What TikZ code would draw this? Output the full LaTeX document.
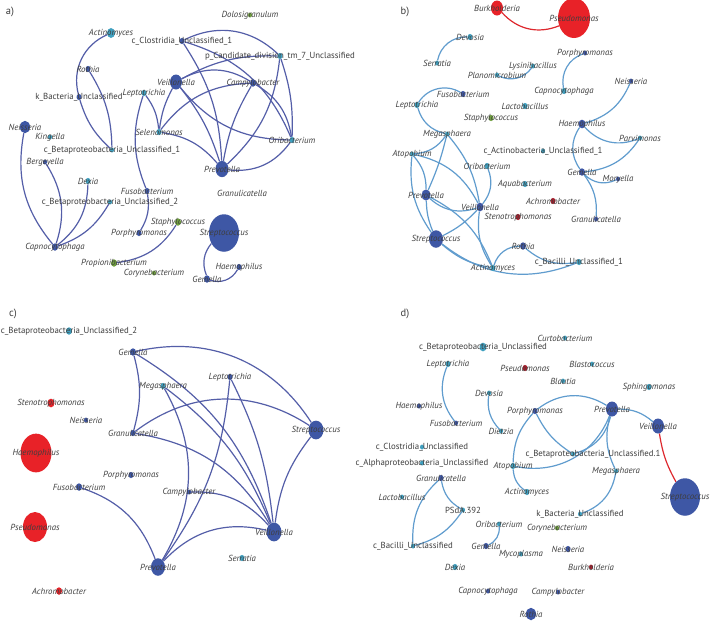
\documentclass[tikz,border=0pt]{standalone}
\usepackage{fontspec}
\setmainfont{PT Sans}
\usetikzlibrary{shapes.geometric,backgrounds}

\definecolor{dkb}{RGB}{62,87,165}
\definecolor{tl}{RGB}{64,160,192}
\definecolor{grn}{RGB}{112,160,62}
\definecolor{rd}{RGB}{232,34,40}
\definecolor{drd}{RGB}{168,30,44}
\definecolor{edgeAC}{RGB}{84,94,168}
\definecolor{edgeBD}{RGB}{96,156,206}
\definecolor{edgeR}{RGB}{222,40,46}
\definecolor{labtext}{RGB}{62,62,62}
\newcommand{\labsize}{\fontsize{8.8}{10}\selectfont}

\begin{document}
\begin{tikzpicture}[x=1pt,y=-1pt,
  tx/.style 2 args={ellipse,inner sep=0pt,fill=#1,minimum width={#2*2pt},minimum height={#2*2.5pt}},
  gen/.style={font=\labsize\itshape,text=labtext,inner sep=0pt},
  cls/.style={font=\labsize,text=labtext,inner sep=0pt},
  pan/.style={font=\fontsize{10.5}{12}\selectfont,text=labtext},
  ea/.style={line width=1.2pt,draw=edgeAC},
  eb/.style={line width=1.2pt,draw=edgeBD},
  er/.style={line width=1.2pt,draw=edgeR}]
\useasboundingbox (0,0) rectangle (710,622);

% panel labels
\node[pan] (pa) at (10,12) {a)};
\node[pan] (pb) at (405,12) {b)};
\node[pan] (pc) at (13,314) {c)};
\node[pan] (pd) at (405,314) {d)};

% ---- a) ----
\node[tx={grn}{2},label={[gen]center:Dolosigranulum}] (aDolo) at (250,15) {};
\node[tx={tl}{4},label={[gen]center:Actinomyces}] (aActi) at (111,33) {};
\node[tx={dkb}{2.5},label={[cls]center:c\_Clostridia\_Unclassified\_1}] (aClos) at (182,41) {};
\node[tx={tl}{2.5},label={[cls]center:p\_Candidate\_division\_tm\_7\_Unclassified}] (aPCan) at (280,56) {};
\node[tx={dkb}{2.5},label={[gen]center:Rothia}] (aRoth) at (88,69) {};
\node[tx={dkb}{6},label={[gen]center:Veillonella}] (aVeil) at (176,82) {};
\node[tx={dkb}{3},label={[gen]center:Campylobacter}] (aCamp) at (253,83) {};
\node[tx={dkb}{2.5},label={[cls]center:k\_Bacteria\_Unclassified}] (akBac) at (79,97) {};
\node[tx={tl}{2.5},label={[gen]center:Leptotrichia}] (aLept) at (144,93) {};
\node[tx={dkb}{5},label={[gen]center:Neisseria}] (aNeis) at (25,127) {};
\node[tx={tl}{2},label={[gen]center:Kingella}] (aKing) at (50,137) {};
\node[tx={tl}{2},label={[cls]center:c\_Betaproteobacteria\_Unclassified\_1}] (aBet1) at (112,150) {};
\node[tx={tl}{2.5},label={[gen]center:Selenomonas}] (aSele) at (159,132) {};
\node[tx={tl}{2.5},label={[gen]center:Oribacterium}] (aOrib) at (292,140) {};
\node[tx={dkb}{2},label={[gen]center:Bergeyella}] (aBerg) at (45,162) {};
\node[tx={dkb}{6.5},label={[gen]center:Prevotella}] (aPrev) at (222,169) {};
\node[tx={tl}{2.5},label={[gen]center:Dexia}] (aDexi) at (88,181) {};
\node[tx={dkb}{2.5},label={[gen]center:Fusobacterium}] (aFuso) at (147,191) {};
\node[gen] (aGran) at (242,193) {Granulicatella};
\node[tx={tl}{2},label={[cls]center:c\_Betaproteobacteria\_Unclassified\_2}] (aBet2) at (110,202) {};
\node[tx={grn}{3},label={[gen]center:Staphylococcus}] (aStap) at (178,222) {};
\node[tx={dkb}{15},label={[gen]center:Streptococcus}] (aStre) at (224,233) {};
\node[tx={dkb}{2.5},label={[gen]center:Porphyromonas}] (aPorp) at (139,233) {};
\node[tx={dkb}{3},label={[gen]center:Capnocytophaga}] (aCapn) at (55,247) {};
\node[tx={grn}{3},label={[gen]center:Propionibacterium}] (aProp) at (114,263) {};
\node[tx={grn}{2},label={[gen]center:Corynebacterium}] (aCory) at (154,273) {};
\node[tx={dkb}{2.5},label={[gen]center:Haemophilus}] (aHaem) at (239,267) {};
\node[tx={dkb}{3},label={[gen]center:Gemella}] (aGeme) at (207,279) {};

% ---- b) ----
\node[tx={rd}{6},label={[gen]center:Burkholderia}] (bBurk) at (497,8) {};
\node[tx={rd}{16},label={[gen]center:Pseudomonas}] (bPseu) at (574,18) {};
\node[tx={tl}{2.5},label={[gen]center:Devosia}] (bDevo) at (470,37) {};
\node[tx={tl}{2},label={[gen]center:Serratia}] (bSerr) at (437,63) {};
\node[tx={tl}{2},label={[gen]center:Lysinibacillus}] (bLysi) at (533,66) {};
\node[tx={tl}{2},label={[gen]center:Planomicrobium}] (bPlan) at (497,75) {};
\node[tx={dkb}{2},label={[gen]center:Porphyromonas}] (bPorp) at (585,53) {};
\node[tx={tl}{2.5},label={[gen]center:Capnocytophaga}] (bCapn) at (564,91) {};
\node[tx={dkb}{2},label={[gen]center:Neisseria}] (bNeis) at (631,81) {};
\node[tx={dkb}{2.5},label={[gen]center:Fusobacterium}] (bFuso) at (463,94) {};
\node[tx={tl}{2.5},label={[gen]center:Leptotrichia}] (bLept) at (417,105) {};
\node[tx={tl}{2.5},label={[gen]center:Lactobacillus}] (bLact) at (525,106) {};
\node[tx={grn}{2.5},label={[gen]center:Staphylococcus}] (bStap) at (491,118) {};
\node[tx={dkb}{3.5},label={[gen]center:Haemophilus}] (bHaem) at (582,124) {};
\node[tx={tl}{2},label={[gen]center:Parvimonas}] (bParv) at (640,138) {};
\node[tx={tl}{2},label={[gen]center:Megasphaera}] (bMega) at (447,134) {};
\node[tx={tl}{2},label={[cls]center:c\_Actinobacteria\_Unclassified\_1}] (bActU) at (543,151) {};
\node[tx={tl}{2},label={[gen]center:Atopobium}] (bAtop) at (412,154) {};
\node[tx={tl}{2.5},label={[gen]center:Oribacterium}] (bOrib) at (487,166) {};
\node[tx={dkb}{3},label={[gen]center:Gemella}] (bGeme) at (582,172) {};
\node[tx={dkb}{2},label={[gen]center:Moryella}] (bMory) at (618,179) {};
\node[tx={tl}{2.5},label={[gen]center:Aquabacterium}] (bAqua) at (525,184) {};
\node[tx={dkb}{4.5},label={[gen]center:Prevotella}] (bPrev) at (426,195) {};
\node[tx={drd}{2.5},label={[gen]center:Achromobacter}] (bAchr) at (553,201) {};
\node[tx={dkb}{3.5},label={[gen]center:Veillonella}] (bVeil) at (480,207) {};
\node[tx={drd}{2.5},label={[gen]center:Stenotrophomonas}] (bSten) at (518,217) {};
\node[tx={dkb}{2},label={[gen]center:Granulicatella}] (bGran) at (596,219) {};
\node[tx={dkb}{7},label={[gen]center:Streptococcus}] (bStre) at (436,239) {};
\node[tx={dkb}{3},label={[gen]center:Rothia}] (bRoth) at (523,246) {};
\node[tx={tl}{2.5},label={[cls]center:c\_Bacilli\_Unclassified\_1}] (bBaci) at (579,262) {};
\node[tx={tl}{2.5},label={[gen]center:Actinomyces}] (bActi) at (493,268) {};

% ---- c) ----
\node[tx={tl}{3},label={[cls]center:c\_Betaproteobacteria\_Unclassified\_2}] (cBet2) at (69,331) {};
\node[tx={dkb}{3},label={[gen]center:Gemella}] (cGeme) at (133,352) {};
\node[tx={dkb}{2.5},label={[gen]center:Leptotrichia}] (cLept) at (230,377) {};
\node[tx={tl}{2.5},label={[gen]center:Megasphaera}] (cMega) at (163,386) {};
\node[tx={rd}{3.5},label={[gen]center:Stenotrophomonas}] (cSten) at (51,403) {};
\node[tx={dkb}{2},label={[gen]center:Neisseria}] (cNeis) at (86,420) {};
\node[tx={dkb}{2.5},label={[gen]center:Granulicatella}] (cGran) at (133,433) {};
\node[tx={dkb}{7.5},label={[gen]center:Streptococcus}] (cStre) at (316,430) {};
\node[tx={rd}{15.5},label={[gen]center:Haemophilus}] (cHaem) at (36,453) {};
\node[tx={dkb}{2.5},label={[gen]center:Porphyromonas}] (cPorp) at (131,475) {};
\node[tx={dkb}{3},label={[gen]center:Fusobacterium}] (cFuso) at (79,487) {};
\node[tx={dkb}{2},label={[gen]center:Campylobacter}] (cCamp) at (189,492) {};
\node[tx={rd}{12},label={[gen]center:Pseudomonas}] (cPseu) at (35,527) {};
\node[tx={dkb}{7.5},label={[gen]center:Veillonella}] (cVeil) at (274,532) {};
\node[tx={tl}{2.5},label={[gen]center:Serratia}] (cSerr) at (242,558) {};
\node[tx={dkb}{7},label={[gen]center:Prevotella}] (cPrev) at (158,567) {};
\node[tx={rd}{3},label={[gen]center:Achromobacter}] (cAchr) at (59,591) {};

% ---- d) ----
\node[tx={tl}{2},label={[gen]center:Curtobacterium}] (dCurt) at (565,338) {};
\node[tx={tl}{3.5},label={[cls]center:c\_Betaproteobacteria\_Unclassified}] (dBeta) at (483,347) {};
\node[tx={tl}{2.5},label={[gen]center:Leptotrichia}] (dLept) at (448,364) {};
\node[tx={drd}{2.5},label={[gen]center:Pseudomonas}] (dPseu) at (525,368) {};
\node[tx={tl}{2},label={[gen]center:Blastococcus}] (dBlas) at (592,364) {};
\node[tx={tl}{2},label={[gen]center:Blautia}] (dBlau) at (563,381) {};
\node[tx={tl}{2.5},label={[gen]center:Sphingomonas}] (dSphi) at (649,387) {};
\node[tx={tl}{2},label={[gen]center:Devosia}] (dDevo) at (489,393) {};
\node[tx={dkb}{2},label={[gen]center:Haemophilus}] (dHaem) at (419,406) {};
\node[tx={dkb}{2.5},label={[gen]center:Porphyromonas}] (dPorp) at (535,411) {};
\node[tx={dkb}{6},label={[gen]center:Prevotella}] (dPrev) at (612,409) {};
\node[tx={dkb}{6},label={[gen]center:Veillonella}] (dVeil) at (658,426) {};
\node[tx={dkb}{2},label={[gen]center:Fusobacterium}] (dFuso) at (456,423) {};
\node[tx={tl}{2},label={[gen]center:Dietzia}] (dDiet) at (501,431) {};
\node[tx={tl}{2},label={[cls]center:c\_Clostridia\_Unclassified}] (dClos) at (422,447) {};
\node[tx={tl}{2},label={[cls]center:c\_Alphaproteobacteria\_Unclassified}] (dAlph) at (422,463) {};
\node[tx={tl}{2},label={[cls,xshift=20pt]center:c\_Betaproteobacteria\_Unclassified.1}] (dBet1) at (573,454) {};
\node[tx={tl}{2.5},label={[gen]center:Atopobium}] (dAtop) at (513,466) {};
\node[tx={dkb}{2.5},label={[gen]center:Granulicatella}] (dGran) at (441,478) {};
\node[tx={tl}{2},label={[gen]center:Lactobacillus}] (dLact) at (402,497) {};
\node[tx={tl}{2.5},label={[gen]center:Actinomyces}] (dActi) at (527,492) {};
\node[tx={tl}{2},label={[cls]center:PSdA.392}] (dPSdA) at (463,510) {};
\node[tx={tl}{2},label={[cls]center:k\_Bacteria\_Unclassified}] (dkBac) at (580,514) {};
\node[tx={tl}{2},label={[gen]center:Megasphaera}] (dMega) at (616,471) {};
\node[tx={dkb}{15},label={[gen]center:Streptococcus}] (dStre) at (685,497) {};
\node[tx={tl}{2},label={[gen]center:Oribacterium}] (dOrib) at (499,524) {};
\node[tx={grn}{2},label={[gen]center:Corynebacterium}] (dCory) at (557,528) {};
\node[tx={tl}{2},label={[cls]center:c\_Bacilli\_Unclassified}] (dBaci) at (413,546) {};
\node[tx={dkb}{2.5},label={[gen]center:Gemella}] (dGeme) at (486,546) {};
\node[tx={tl}{2},label={[gen]center:Mycoplasma}] (dMyco) at (521,554) {};
\node[tx={dkb}{2.5},label={[gen]center:Neisseria}] (dNeis) at (568,549) {};
\node[tx={tl}{2.5},label={[gen]center:Dexia}] (dDexi) at (455,567) {};
\node[tx={drd}{2},label={[gen]center:Burkholderia}] (dBurk) at (591,567) {};
\node[tx={dkb}{2},label={[gen]center:Capnocytophaga}] (dCapn) at (488,591) {};
\node[tx={dkb}{2},label={[gen]center:Campylobacter}] (dCamp) at (558,592) {};
\node[tx={dkb}{5},label={[gen]center:Rothia}] (dRoth) at (531,614) {};

\begin{scope}[on background layer]
\fill[white] (0,0) rectangle (710,622);
% a) links
\draw[ea] (aActi) to[bend right=40] (akBac);
\draw[ea] (aRoth) to[bend left=15] (aBet1);
\draw[ea] (akBac) to[bend right=15] (aBet1);
\draw[ea] (aNeis) to[bend right=25] (aCapn);
\draw[ea] (aBerg) to[bend left=25] (aCapn);
\draw[ea] (aDexi) to[bend left=25] (aCapn);
\draw[ea] (aBet2) to[bend left=20] (aCapn);
\draw[ea] (aLept) to[bend left=15] (aSele);
\draw[ea] (aLept) to[bend right=20] (aFuso);
\draw[ea] (aFuso) to[bend left=20] (aPorp);
\draw[ea] (aStap) to[bend left=25] (aProp);
\draw[ea] (aStre) to[bend right=30] (aGeme);
\draw[ea] (aGeme) to[bend right=40] (aHaem);
\draw[ea] (aClos) to[bend left=35] (aPCan);
\draw[ea] (aClos) to[bend left=15] (aPrev);
\draw[ea] (aClos) to[bend left=25] (aOrib);
\draw[ea] (aVeil) to[bend left=30] (aCamp);
\draw[ea] (aVeil) to[bend left=15] (aPCan);
\draw[ea] (aVeil) to[bend left=10] (aPrev);
\draw[ea] (aVeil) to[bend right=10] (aSele);
\draw[ea] (aVeil) to[bend right=25] (aOrib);
\draw[ea] (aSele) to[bend left=25] (aCamp);
\draw[ea] (aSele) to[bend left=20] (aPrev);
\draw[ea] (aCamp) to[bend right=10] (aPrev);
\draw[ea] (aCamp) to[bend left=25] (aOrib);
\draw[ea] (aPCan) to[bend left=20] (aPrev);
\draw[ea] (aPCan) to[bend left=10] (aOrib);
\draw[ea] (aPrev) to[bend right=30] (aOrib);
% b) links
\draw[er] (bBurk) to[bend right=35] (bPseu);
\draw[eb] (bDevo) to[bend right=40] (bSerr);
\draw[eb] (bLysi) to[bend left=40] (bPlan);
\draw[eb] (bPorp) to[bend right=40] (bCapn);
\draw[eb] (bLept) to[bend left=45] (bFuso);
\draw[eb] (bLept) to[bend right=30] (bMega);
\draw[eb] (bNeis) to[bend left=25] (bHaem);
\draw[eb] (bHaem) to[bend right=35] (bParv);
\draw[eb] (bHaem) to[bend right=35] (bGeme);
\draw[eb] (bParv) to[bend left=25] (bGeme);
\draw[eb] (bGeme) to[bend right=35] (bMory);
\draw[eb] (bGeme) to[bend left=20] (bGran);
\draw[eb] (bMega) to[bend left=25] (bAtop);
\draw[eb] (bMega) to[bend left=5] (bPrev);
\draw[eb] (bMega) to[bend left=15] (bVeil);
\draw[eb] (bAtop) to[bend left=20] (bPrev);
\draw[eb] (bAtop) to[bend left=25] (bVeil);
\draw[eb] (bAtop) to[bend right=20] (bStre);
\draw[eb] (bOrib) to[bend left=30] (bVeil);
\draw[eb] (bPrev) to[bend right=30] (bVeil);
\draw[eb] (bPrev) to[bend right=10] (bStre);
\draw[eb] (bPrev) to[bend left=20] (bActi);
\draw[eb] (bVeil) to[bend left=10] (bStre);
\draw[eb] (bVeil) to[bend right=20] (bActi);
\draw[eb] (bStre) to[bend right=15] (bActi);
\draw[eb] (bStre) to[bend right=30] (bBaci);
\draw[eb] (bActi) to[bend left=35] (bRoth);
\draw[eb] (bRoth) to[bend right=25] (bBaci);
% c) links
\draw[ea] (cGeme) to[bend left=35] (cStre);
\draw[ea] (cGeme) to[bend left=20] (cVeil);
\draw[ea] (cGeme) to[bend left=15] (cGran);
\draw[ea] (cMega) to[bend left=15] (cVeil);
\draw[ea] (cMega) to[bend left=30] (cPrev);
\draw[ea] (cLept) to[bend left=15] (cPrev);
\draw[ea] (cLept) to[bend left=10] (cVeil);
\draw[ea] (cGran) to[bend left=35] (cStre);
\draw[ea] (cGran) to[bend left=25] (cVeil);
\draw[ea] (cStre) to[bend right=15] (cVeil);
\draw[ea] (cCamp) to[bend left=25] (cVeil);
\draw[ea] (cFuso) to[bend left=25] (cPrev);
\draw[ea] (cPrev) to[bend left=30] (cVeil);
% d) links
\draw[eb] (dLept) to[bend right=30] (dFuso);
\draw[eb] (dDevo) to[bend right=25] (dDiet);
\draw[eb] (dPorp) to[bend left=35] (dPrev);
\draw[eb] (dPorp) to[bend right=20] (dAtop);
\draw[eb] (dPorp) to[bend right=15] (dBet1);
\draw[eb] (dAtop) to[bend right=40] (dPrev);
\draw[eb] (dAtop) to[bend right=25] (dActi);
\draw[eb] (dPrev) to[bend left=30] (dBet1);
\draw[eb] (dPrev) to[bend right=20] (dMega);
\draw[eb] (dPrev) to[bend left=20] (dVeil);
\draw[eb] (dMega) to[bend left=30] (dkBac);
\draw[eb] (dGran) to[bend right=25] (dBaci);
\draw[eb] (dGran) to[bend right=25] (dPSdA);
\draw[eb] (dPSdA) to[bend left=20] (dBaci);
\draw[eb] (dOrib) to[bend left=35] (dGeme);
\draw[er] (dVeil) to[bend right=10] (dStre);
\end{scope}
\end{tikzpicture}
\end{document}
